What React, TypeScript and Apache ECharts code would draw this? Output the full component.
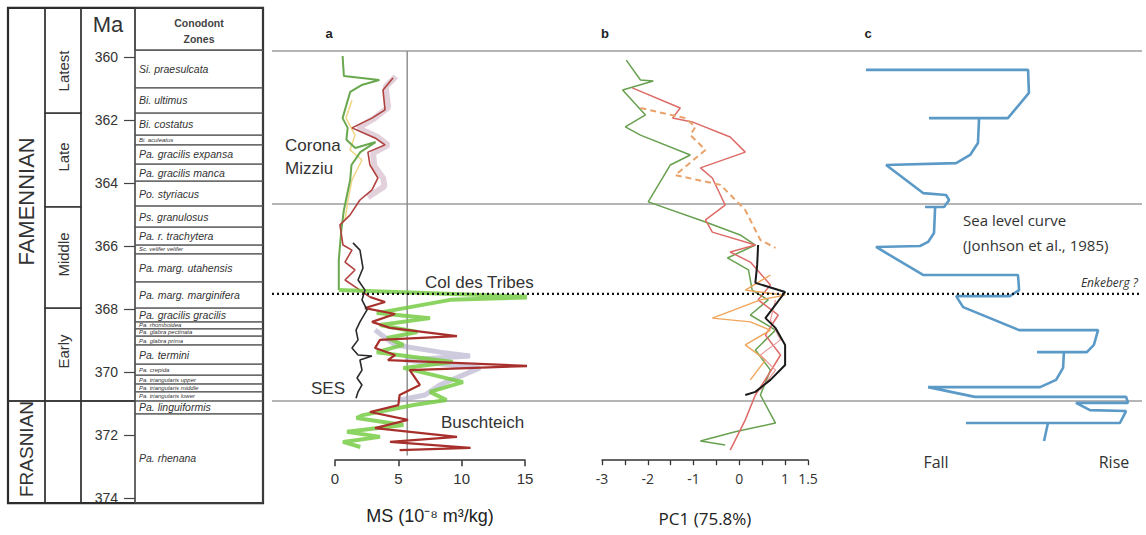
import React, { useEffect, useRef } from "react";
import * as echarts from "echarts";

type Pt = [number, number];

// ---------- Stratigraphic table (ages in Ma) ----------
const tableTop = 358.44;
const tableBase = 374.16;
const maTickLabels = [360, 362, 364, 366, 368, 370, 372, 374];

const periods = [
  { name: "FAMENNIAN", top: 358.44, base: 370.92 },
  { name: "FRASNIAN", top: 370.92, base: 374.16 },
];

const epochs = [
  { name: "Latest", top: 358.44, base: 361.78 },
  { name: "Late", top: 361.78, base: 364.76 },
  { name: "Middle", top: 364.76, base: 367.97 },
  { name: "Early", top: 367.97, base: 370.92 },
  { name: "", top: 370.92, base: 374.16 },
];

const zones = [
  { name: "Si. praesulcata", top: 359.78, base: 360.98 },
  { name: "Bi. ultimus", top: 360.98, base: 361.78 },
  { name: "Bi. costatus", top: 361.78, base: 362.48 },
  { name: "Bi. aculeatus", top: 362.48, base: 362.79 },
  { name: "Pa. gracilis expansa", top: 362.79, base: 363.4 },
  { name: "Pa. gracilis manca", top: 363.4, base: 363.94 },
  { name: "Po. styriacus", top: 363.94, base: 364.73 },
  { name: "Ps. granulosus", top: 364.73, base: 365.4 },
  { name: "Pa. r. trachytera", top: 365.4, base: 365.97 },
  { name: "Sc. velifer velifer", top: 365.97, base: 366.25 },
  { name: "Pa. marg. utahensis", top: 366.25, base: 367.14 },
  { name: "Pa. marg. marginifera", top: 367.14, base: 367.97 },
  { name: "Pa. gracilis gracilis", top: 367.97, base: 368.41 },
  { name: "Pa. rhomboidea", top: 368.41, base: 368.63 },
  { name: "Pa. glabra pectinata", top: 368.63, base: 368.86 },
  { name: "Pa. glabra prima", top: 368.86, base: 369.14 },
  { name: "Pa. termini", top: 369.14, base: 369.75 },
  { name: "Pa. crepida", top: 369.75, base: 370.1 },
  { name: "Pa. triangularis upper", top: 370.1, base: 370.38 },
  { name: "Pa. triangularis middle", top: 370.38, base: 370.63 },
  { name: "Pa. triangularis lower", top: 370.63, base: 370.92 },
  { name: "Pa. linguiformis", top: 370.92, base: 371.33 },
  { name: "Pa. rhenana", top: 371.33, base: 374.16 },
];

// ---------- Reference horizons (Ma) ----------
const refLines = [359.81, 364.67, 370.92];
const colDesTribesLevel = 367.52;
const msThreshold = 5.7;
const msThresholdRange = [359.81, 372.65];

// ---------- Panel a : MS (value, Ma) ----------
const msTicks = [0, 5, 10, 15];
const msGreenUpper: Pt[] = [
  [0.6, 359.97], [0.7, 360.6], [3.5, 360.73], [2.1, 360.89], [1.2, 361.11], [0.9, 361.52],
  [0.6, 361.94], [1.0, 362.25], [0.9, 362.63], [1.6, 362.89], [3.2, 362.7], [2.0, 363.02],
  [1.3, 363.43], [1.2, 363.9], [0.95, 364.38], [0.7, 364.86], [0.5, 365.49], [0.3, 366.44], [0.3, 367.4],
];
const msGreenLower: Pt[] = [
  [0.3, 367.4], [16.2, 367.62], [9.1, 367.71], [3.3, 368.13], [7.5, 368.29], [3.55, 368.51],
  [6.5, 368.73], [4.1, 368.92], [5.4, 369.14], [3.3, 369.37], [9.3, 369.68], [5.4, 369.87],
  [10.1, 370.32], [7.5, 370.63], [8.8, 370.89], [6.2, 371.05], [2.2, 371.37], [1.7, 371.46],
  [5.4, 371.68], [0.95, 371.9], [3.55, 372.06], [0.63, 372.22], [2.0, 372.38],
];
const msRedUpper: Pt[] = [
  [4.58, 360.67], [3.79, 361.05], [3.95, 361.68], [2.92, 361.94], [1.34, 362.25], [3.16, 362.57],
  [3.95, 362.79], [2.6, 363.02], [2.76, 363.43], [3.39, 363.84], [2.92, 364.22], [1.97, 364.54],
  [1.18, 365.02], [0.39, 365.33], [0.63, 365.97], [1.34, 366.13], [0.79, 366.51], [1.58, 366.76],
  [0.79, 367.08], [1.97, 367.4], [2.76, 367.62],
];
const msRedLower: Pt[] = [
  [2.76, 367.62], [3.95, 367.78], [2.37, 367.97], [4.74, 368.16], [2.92, 368.41], [4.34, 368.6],
  [9.63, 368.86], [3.55, 368.98], [3.16, 369.24], [4.74, 369.46], [4.18, 369.62], [15.4, 369.81],
  [5.9, 369.94], [6.7, 370.41], [5.1, 370.73], [5.0, 371.05], [2.76, 371.27], [5.76, 371.52],
  [3.16, 371.78], [9.63, 372.06], [4.34, 372.22], [10.7, 372.41], [5.1, 372.48],
];
const msBlack: Pt[] = [
  [1.42, 365.9], [1.97, 366.13], [2.21, 366.7], [1.82, 367.08], [2.37, 367.4], [2.13, 367.71],
  [2.53, 368.03], [1.97, 368.41], [1.66, 368.67], [1.82, 368.98], [1.34, 369.24], [1.82, 369.46],
  [2.92, 369.49], [1.97, 369.62], [2.13, 369.94], [1.74, 370.19], [2.13, 370.41], [1.82, 370.63], [1.66, 370.83],
];
const msEnvelope: Pt[] = [
  [4.8, 360.62], [4.0, 360.95], [4.2, 361.6], [3.1, 361.95], [1.8, 362.25], [3.4, 362.55],
  [4.2, 362.8], [3.0, 363.05], [3.1, 363.45], [3.8, 363.85], [3.9, 364.1], [2.6, 364.45],
];
const msYellow: Pt[] = [
  [1.34, 361.37], [0.87, 361.94], [1.58, 362.48], [1.18, 362.95], [2.13, 363.27], [1.34, 363.9],
  [1.03, 364.54], [0.79, 365.17],
];
const msLilac: Pt[] = [
  [3.16, 368.67], [4.74, 369.14], [8.29, 369.37], [10.66, 369.49], [5.52, 369.62], [11.44, 369.87],
  [8.29, 370.41], [7.1, 370.73], [5.13, 370.89],
];

// ---------- Panel b : PC1 (value, Ma) ----------
const pcTickLabels = [-3, -2, -1, 0, 1, 1.5];
const pcGreen: Pt[] = [
  [-2.47, 360.1], [-2.16, 360.73], [-1.88, 360.76], [-2.55, 361.05], [-2.05, 361.84], [-2.49, 362.22],
  [-2.16, 362.48], [-1.07, 363.11], [-1.51, 363.43], [-1.99, 364.6], [-0.74, 365.24], [0.02, 365.65],
  [0.35, 365.97], [-0.26, 366.38], [0.2, 366.76], [0.28, 367.4], [0.63, 367.71], [0.24, 368.19],
  [0.79, 368.67], [0.35, 369.3], [0.68, 369.94], [0.46, 370.73], [0.79, 371.62], [-0.09, 371.9],
  [-0.85, 372.19], [-0.31, 372.32],
];
const pcRed: Pt[] = [
  [-2.34, 360.98], [-1.29, 361.62], [-1.46, 361.94], [-1.03, 362.06], [-0.2, 362.54], [0.13, 363.02],
  [-0.85, 363.52], [-0.59, 363.84], [-0.31, 364.7], [-0.74, 365.17], [-0.59, 365.56], [0.35, 365.97],
  [-0.2, 366.19], [0.24, 366.51], [0.68, 367.24], [0.41, 367.71], [0.85, 368.19], [0.57, 368.83],
  [0.9, 369.46], [0.63, 370.1], [0.35, 370.73], [0.13, 371.52], [-0.09, 372.16], [-0.2, 372.48],
];
const pcOrangeDashed: Pt[] = [
  [-2.16, 361.62], [-1.18, 361.94], [-0.96, 362.22], [-1.07, 362.48], [-0.74, 362.95], [-1.4, 363.75],
  [-0.41, 364.06], [0.13, 364.86], [0.46, 365.81], [0.79, 366.06],
];
const pcBlack: Pt[] = [
  [0.41, 365.97], [0.39, 366.6], [0.35, 367.17], [1.0, 367.46], [0.57, 368.29], [0.79, 368.6],
  [1.0, 369.14], [1.0, 369.78], [0.68, 370.25], [0.35, 370.63], [0.13, 370.73],
];
const pcOrange: Pt[] = [
  [0.68, 366.92], [0.13, 367.4], [1.0, 367.56], [0.46, 367.71], [-0.59, 368.29], [0.24, 368.41],
  [0.68, 368.67], [0.13, 369.14], [0.57, 369.62], [0.24, 370.25],
];
const pcPink: Pt[] = [
  [0.79, 367.71], [0.68, 368.35], [0.9, 368.98], [0.46, 369.46], [0.79, 369.94], [0.46, 370.57],
];

// ---------- Panel c : sea level (relative 0 = fall .. 100 = rise, Ma) ----------
const seaLevel: Pt[] = [
  [5.7, 360.41], [63.6, 360.41], [63.9, 361.14], [56.4, 361.94], [28.2, 361.94], [46.1, 361.94],
  [45.7, 362.73], [42.9, 363.11], [37.9, 363.37], [12.9, 363.43], [26.1, 364.32], [34.3, 364.38],
  [35.4, 364.54], [33.6, 364.76], [26.8, 364.76], [30.4, 364.76], [30.0, 365.59], [27.9, 365.87],
  [25.0, 366.0], [9.3, 366.03], [26.1, 366.92], [60.0, 366.92], [60.4, 367.4], [57.1, 367.59],
  [37.9, 367.59], [40.4, 367.94], [60.4, 368.67], [88.6, 368.67], [87.1, 369.14], [84.6, 369.37],
  [66.8, 369.37], [76.4, 369.37], [76.1, 369.87], [73.6, 370.25], [67.9, 370.48], [27.9, 370.48],
  [44.6, 370.79], [98.6, 370.79], [99.3, 370.98], [80.7, 370.98], [85.7, 371.21], [98.6, 371.24],
  [96.4, 371.62], [41.4, 371.62], [70.7, 371.62], [69.3, 372.19],
];

const FONT = "Liberation Sans, Arial, sans-serif";
const FONT2 = "Open Sans, Noto Sans, sans-serif";

// table column bounds, in table x-units (1 unit = 1 px, 0 = left edge of zone column)
const COLS = { period: [-127, -90], epoch: [-90, -54], ma: [-54, 0], zone: [0, 128] };

function lineSeries(data: Pt[], axis: number, color: string, width: number, extra: any = {}) {
  return {
    type: "line",
    xAxisIndex: axis,
    yAxisIndex: axis,
    data,
    symbol: "none",
    showSymbol: false,
    clip: false,
    silent: true,
    lineStyle: { color, width, ...(extra.lineStyle || {}) },
    z: extra.z ?? 3,
  };
}

function txt(text: string, x: number, y: number, size: number, opts: any = {}) {
  return {
    type: "text",
    x,
    y,
    silent: true,
    style: {
      text,
      fill: opts.fill || "#333",
      fontSize: size,
      fontFamily: opts.family || FONT,
      fontWeight: opts.weight || "normal",
      fontStyle: opts.style || "normal",
      align: opts.align || "left",
      textAlign: opts.align || "left",
      verticalAlign: "middle",
      textVerticalAlign: "middle",
    },
  };
}

export default function App() {
  const ref = useRef<HTMLDivElement>(null);
  useEffect(() => {
    document.body.style.margin = "0";
    const chart = echarts.init(ref.current!, null, { renderer: "svg" });

    const panelTop = 41.25;
    const panelH = 418.95;

    const option: any = {
      animation: false,
      backgroundColor: "#ffffff",
      textStyle: { fontFamily: FONT },
      grid: [
        { left: 135, top: 57, width: 128, height: 441 },
        { left: 335, top: panelTop, width: 190, height: panelH },
        { left: 602, top: panelTop, width: 206, height: panelH },
        { left: 850, top: panelTop, width: 280, height: panelH },
        { left: 272, top: 25.5, width: 870, height: 472.5 },
      ],
      xAxis: [
        { gridIndex: 0, type: "value", min: 0, max: 128, show: false },
        {
          gridIndex: 1, type: "value", min: 0, max: 15, interval: 5,
          axisLine: { lineStyle: { color: "#333", width: 1.5 } },
          axisTick: { length: 6, lineStyle: { color: "#333", width: 1.5 } },
          axisLabel: {
            fontSize: 15, color: "#333", margin: 11,
            formatter: (v: number) => (msTicks.includes(v) ? String(v) : ""),
          },
          splitLine: { show: false },
          name: "MS (10⁻⁸ m³/kg)", nameLocation: "middle", nameGap: 47,
          nameTextStyle: { fontSize: 18, color: "#222" },
        },
        {
          gridIndex: 2, type: "value", min: -3, max: 1.5, interval: 0.5,
          axisLine: { lineStyle: { color: "#333", width: 1.5 } },
          axisTick: { length: 5, lineStyle: { color: "#333", width: 1.3 } },
          axisLabel: {
            fontSize: 14, color: "#333", margin: 11, fontFamily: FONT2,
            formatter: (v: number) => (pcTickLabels.includes(v) ? String(v) : ""),
          },
          splitLine: { show: false },
          name: "PC1 (75.8%)", nameLocation: "middle", nameGap: 50,
          nameTextStyle: { fontSize: 17, color: "#222", fontFamily: FONT2 },
        },
        { gridIndex: 3, type: "value", min: 0, max: 100, show: false },
        { gridIndex: 4, type: "value", min: 0, max: 1, show: false },
      ],
      yAxis: [
        {
          gridIndex: 0, type: "value", min: 360, max: 374, interval: 2, inverse: true,
          axisLine: { show: false },
          axisTick: { show: true, length: 11, lineStyle: { color: "#444", width: 1.2 } },
          axisLabel: {
            fontSize: 14, color: "#333", margin: 17,
            formatter: (v: number) => (maTickLabels.includes(v) ? String(v) : ""),
          },
          splitLine: { show: false },
        },
        { gridIndex: 1, type: "value", min: 359.5, max: 372.8, inverse: true, show: false },
        { gridIndex: 2, type: "value", min: 359.5, max: 372.8, inverse: true, show: false },
        { gridIndex: 3, type: "value", min: 359.5, max: 372.8, inverse: true, show: false },
        { gridIndex: 4, type: "value", min: 359, max: 374, inverse: true, show: false },
      ],
      series: [
        // reference horizons
        ...refLines.map((v) => ({
          type: "line", xAxisIndex: 4, yAxisIndex: 4, data: [[0, v], [1, v]],
          symbol: "none", silent: true, z: 1,
          lineStyle: { color: "#9c9c9c", width: 1.5 },
        })),
        {
          type: "line", xAxisIndex: 4, yAxisIndex: 4,
          data: [[0, colDesTribesLevel], [1, colDesTribesLevel]],
          symbol: "none", silent: true, z: 5,
          lineStyle: { color: "#111", width: 2.2, type: [2, 3] },
        },
        {
          type: "line", xAxisIndex: 1, yAxisIndex: 1,
          data: [[msThreshold, msThresholdRange[0]], [msThreshold, msThresholdRange[1]]],
          symbol: "none", silent: true, clip: false, z: 1,
          lineStyle: { color: "#8a8a8a", width: 1.4 },
        },
        // panel a
        lineSeries(msEnvelope, 1, "rgba(190,150,175,0.45)", 6, { z: 2 }),
        lineSeries(msLilac, 1, "rgba(165,160,195,0.55)", 5, { z: 2 }),
        lineSeries(msYellow, 1, "rgba(236,206,110,0.85)", 1.5),
        lineSeries(msGreenUpper, 1, "#6aa84f", 2),
        lineSeries(msRedUpper, 1, "#b0413e", 1.6),
        lineSeries(msBlack, 1, "#2a2a2a", 1.6, { z: 4 }),
        lineSeries(msGreenLower, 1, "rgba(120,205,70,0.85)", 4),
        lineSeries(msRedLower, 1, "#a8302c", 2.2),
        // panel b
        lineSeries(pcGreen, 2, "#67a04f", 1.5),
        lineSeries(pcRed, 2, "#dd6a66", 1.5),
        lineSeries(pcOrangeDashed, 2, "#e8a26a", 2, { lineStyle: { type: [6, 4] } }),
        lineSeries(pcOrange, 2, "#f0a65a", 1.4),
        lineSeries(pcPink, 2, "#ec9a9a", 1.2),
        lineSeries(pcBlack, 2, "#1a1a1a", 2, { z: 4 }),
        // panel c
        lineSeries(seaLevel, 3, "#5b9ac7", 2.6),
        // table frame + header
        {
          type: "custom", xAxisIndex: 0, yAxisIndex: 0, silent: true, z: 6,
          data: [[tableTop, tableBase]],
          renderItem: (_p: any, api: any) => {
            const top = api.value(0);
            const base = api.value(1);
            const [x0, y0] = api.coord([COLS.period[0], top]);
            const [x1, y1] = api.coord([COLS.zone[1], base]);
            const [zx0] = api.coord([COLS.zone[0], top]);
            const [, hy] = api.coord([0, zones[0].top]);
            const [mx] = api.coord([(COLS.ma[0] + COLS.ma[1]) / 2, top]);
            const [zx] = api.coord([(COLS.zone[0] + COLS.zone[1]) / 2, top]);
            return {
              type: "group",
              children: [
                { type: "rect", shape: { x: x0, y: y0, width: x1 - x0, height: y1 - y0 }, style: { fill: "none", stroke: "#222", lineWidth: 2.2 } },
                { type: "rect", shape: { x: zx0, y: y0, width: x1 - zx0, height: hy - y0 }, style: { fill: "none", stroke: "#444", lineWidth: 1.2 } },
                txt("Ma", mx, y0 + 17, 22, { align: "center", fill: "#333" }),
                txt("Conodont", zx, y0 + 15, 10.5, { align: "center", weight: "bold", fill: "#444" }),
                txt("Zones", zx, y0 + 31, 10.5, { align: "center", weight: "bold", fill: "#444" }),
              ],
            };
          },
        },
        {
          type: "custom", xAxisIndex: 0, yAxisIndex: 0, silent: true, z: 6,
          data: periods.map((p) => [p.top, p.base]),
          renderItem: (params: any, api: any) => {
            const p = periods[params.dataIndex];
            const [x0, y0] = api.coord([COLS.period[0], api.value(0)]);
            const [x1, y1] = api.coord([COLS.period[1], api.value(1)]);
            const [m0] = api.coord([COLS.ma[0], 0]);
            const [m1] = api.coord([COLS.ma[1], 0]);
            return {
              type: "group",
              children: [
                { type: "rect", shape: { x: x0, y: y0, width: x1 - x0, height: y1 - y0 }, style: { fill: "none", stroke: "#333", lineWidth: 1.3 } },
                { type: "rect", shape: { x: m0, y: y0, width: m1 - m0, height: y1 - y0 }, style: { fill: "none", stroke: "#333", lineWidth: 1.3 } },
                {
                  type: "text", x: (x0 + x1) / 2, y: (y0 + y1) / 2 - 3, rotation: Math.PI / 2,
                  style: {
                    text: p.name, fill: "#333", fontSize: p.name === "FRASNIAN" ? 19 : 22, fontFamily: FONT,
                    align: "center", textAlign: "center", verticalAlign: "middle", textVerticalAlign: "middle",
                  },
                },
              ],
            };
          },
        },
        {
          type: "custom", xAxisIndex: 0, yAxisIndex: 0, silent: true, z: 6,
          data: epochs.map((e) => [e.top, e.base]),
          renderItem: (params: any, api: any) => {
            const e = epochs[params.dataIndex];
            const top = api.value(0);
            const base = api.value(1);
            const [x0, y0] = api.coord([COLS.epoch[0], top]);
            const [x1, y1] = api.coord([COLS.epoch[1], base]);
            const [, ly] = api.coord([0, (Math.max(top, 359.3) + base) / 2]);
            return {
              type: "group",
              children: [
                { type: "rect", shape: { x: x0, y: y0, width: x1 - x0, height: y1 - y0 }, style: { fill: "none", stroke: "#333", lineWidth: 1.3 } },
                {
                  type: "text", x: (x0 + x1) / 2, y: ly - 3, rotation: Math.PI / 2,
                  style: {
                    text: e.name, fill: "#333", fontSize: 15, fontFamily: FONT,
                    align: "center", textAlign: "center", verticalAlign: "middle", textVerticalAlign: "middle",
                  },
                },
              ],
            };
          },
        },
        {
          type: "custom", xAxisIndex: 0, yAxisIndex: 0, silent: true, z: 6,
          data: zones.map((zn) => [zn.top, zn.base]),
          renderItem: (params: any, api: any) => {
            const zn = zones[params.dataIndex];
            const [x0, y0] = api.coord([COLS.zone[0], api.value(0)]);
            const [x1, y1] = api.coord([COLS.zone[1], api.value(1)]);
            const h = y1 - y0;
            return {
              type: "group",
              children: [
                { type: "rect", shape: { x: x0, y: y0, width: x1 - x0, height: h }, style: { fill: "none", stroke: "#555", lineWidth: 1 } },
                {
                  type: "text", x: x0 + 4, y: y0 + h / 2,
                  style: {
                    text: zn.name, fill: "#333", fontSize: h < 12 ? 6 : 10.5, fontStyle: "italic", fontFamily: FONT,
                    align: "left", textAlign: "left", verticalAlign: "middle", textVerticalAlign: "middle",
                  },
                },
              ],
            };
          },
        },
      ],
      graphic: {
        elements: [
          txt("a", 329, 33, 13, { align: "center", weight: "bold", fill: "#222" }),
          txt("b", 605, 33, 13, { align: "center", weight: "bold", fill: "#222" }),
          txt("c", 868, 33, 13, { align: "center", weight: "bold", fill: "#222" }),
          txt("Corona", 285, 145, 17),
          txt("Mizziu", 285, 168, 17),
          txt("Col des Tribes", 425, 282, 17),
          txt("SES", 311, 388, 17),
          txt("Buschteich", 441, 422, 17),
          txt("Sea level curve", 963, 220, 15, { family: FONT2 }),
          txt("(Jonhson et al., 1985)", 963, 245, 15, { family: FONT2 }),
          txt("Enkeberg ?", 1138, 282, 12, { align: "right", style: "italic", family: FONT2 }),
          txt("Fall", 936, 462, 16, { align: "center", family: FONT2 }),
          txt("Rise", 1114, 462, 16, { align: "center", family: FONT2 }),
        ],
      },
    };

    chart.setOption(option);
    return () => chart.dispose();
  }, []);
  return <div ref={ref} style={{ width: 1146, height: 535 }} />;
}
